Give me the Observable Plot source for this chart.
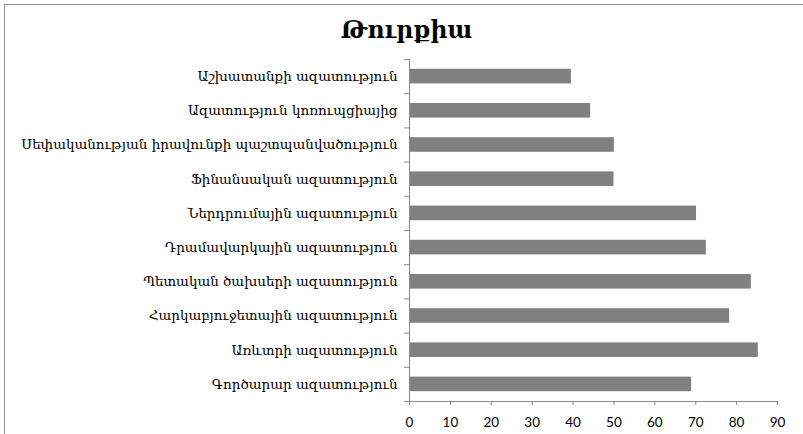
<!DOCTYPE html>
<html>
<head>
<meta charset="utf-8">
<script src="https://cdn.jsdelivr.net/npm/d3@7"></script>
<script src="https://cdn.jsdelivr.net/npm/@observablehq/plot@0.6"></script>
<style>
  html, body { margin: 0; padding: 0; background: #fff; }
  #wrap { position: relative; width: 803px; height: 434px; overflow: hidden; }
  #frame { position: absolute; left: 4px; top: 4px; width: 820px; height: 460px;
           border-top: 1px solid #8c8c8c; border-left: 1px solid #8c8c8c; pointer-events: none; }
  #title { position: absolute; left: 0; top: 16px; width: 803px; text-align: center;
           font-family: "DejaVu Serif", serif; font-weight: bold; font-size: 23.5px; color: #000; padding-left: 10px; box-sizing: border-box; }
  #chart { position: absolute; left: 0; top: 0; }
</style>
</head>
<body>
<div id="wrap">
  <div id="chart"></div>
  <div id="frame"></div>
  <div id="title">Թուրքիա</div>
</div>
<script>
const titleText = "Թուրքիա";
const categories = [
  "Աշխատանքի ազատություն",
  "Ազատություն կոռուպցիայից",
  "Սեփականության իրավունքի պաշտպանվածություն",
  "Ֆինանսական ազատություն",
  "Ներդրումային ազատություն",
  "Դրամավարկային ազատություն",
  "Պետական ծախսերի ազատություն",
  "Հարկաբյուջետային ազատություն",
  "Առևտրի ազատություն",
  "Գործարար ազատություն"
];
const values = [39.6, 44.3, 50.1, 50.0, 70.2, 72.6, 83.6, 78.3, 85.3, 69.0];
const xTicks = [0, 10, 20, 30, 40, 50, 60, 70, 80, 90];

const data = categories.map((c, i) => ({cat: c, value: values[i], i}));
const bounds = d3.range(0, categories.length + 1);

const chart = Plot.plot({
  width: 803,
  height: 434,
  marginLeft: 409,
  marginRight: 26,
  marginTop: 59,
  marginBottom: 33,
  style: {background: "transparent", overflow: "visible"},
  x: {type: "linear", domain: [0, 90], axis: null},
  y: {type: "linear", domain: [0, categories.length], reverse: true, axis: null},
  marks: [
    Plot.rectX(data, {x1: 0, x2: "value", y1: d => d.i, y2: d => d.i + 1, insetTop: 9.8, insetBottom: 9.8, fill: "#808080"}),
    Plot.axisY({ticks: bounds, tickFormat: () => "", tickSize: 5, stroke: "#8a8a8a", label: null}),
    Plot.ruleX([0], {stroke: "#8a8a8a", strokeWidth: 1}),
    Plot.ruleY([categories.length], {stroke: "#8a8a8a", strokeWidth: 1}),
    Plot.axisX({ticks: xTicks, tickSize: 4, stroke: "#8a8a8a", tickPadding: 12,
      fontFamily: "Lato, 'Open Sans', sans-serif", fontSize: 13.5, fill: "#000", label: null}),
    Plot.text(data, {x: 0, y: d => d.i + 0.5, text: "cat", textAnchor: "end", dx: -12,
      fontFamily: "'DejaVu Serif', serif", fontSize: 13.5, fill: "#000"})
  ]
});
document.getElementById("chart").appendChild(chart);
document.getElementById("title").textContent = titleText;
</script>
</body>
</html>
